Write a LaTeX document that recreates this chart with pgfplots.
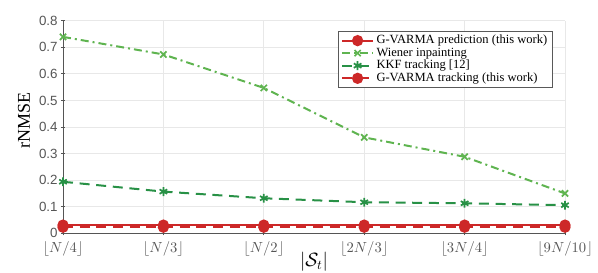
\documentclass[border=0pt]{standalone}
\usepackage{pgfplots}
\pgfplotsset{compat=1.18}
\usepackage{fontspec}
\setmainfont{Liberation Serif}
\setsansfont{Liberation Sans}
\definecolor{myred}{RGB}{205,40,40}
\definecolor{lgreen}{RGB}{95,180,80}
\definecolor{dgreen}{RGB}{40,145,70}
\definecolor{tickgray}{RGB}{85,85,85}
\begin{document}
\begin{tikzpicture}
\begin{axis}[
  name=ax,
  scale only axis,
  width=376.5pt, height=159.5pt,
  xmin=0, xmax=5, ymin=0, ymax=0.8,
  axis lines=left,
  axis line style={-, draw=tickgray, line width=0.7pt},
  xtick={0,1,2,3,4,5},
  xticklabels={$\lfloor N/4\rfloor$,$\lfloor N/3\rfloor$,$\lfloor N/2\rfloor$,$\lfloor 2N/3\rfloor$,$\lfloor 3N/4\rfloor$,$\lfloor 9N/10\rfloor$},
  ytick={0,0.1,0.2,0.3,0.4,0.5,0.6,0.7,0.8},
  yticklabels={0,0.1,0.2,0.3,0.4,0.5,0.6,0.7,0.8},
  yticklabel style={font=\sffamily\fontsize{10}{12}\selectfont, text=tickgray, xshift=1pt},
  xticklabel style={font=\fontsize{10.5}{12}\selectfont, text=tickgray, yshift=-1pt},
  tick style={draw=tickgray, line width=0.6pt},
  major tick length=3pt,
  grid=major,
  grid style={draw=gray!18, line width=0.6pt},
  ylabel={rNMSE},
  ylabel style={font=\fontsize{13.5}{15}\selectfont, at={(ticklabel cs:0.53)}},
  xlabel={$|\mathcal{S}_t|$},
  xlabel style={font=\fontsize{14}{16}\selectfont, yshift=10pt},
  clip=false,
  legend style={at={(rel axis cs:0.976,0.952)}, anchor=north east, font=\fontsize{9.4}{10.5}\selectfont, draw=gray!70!black, line width=0.6pt, inner xsep=2pt, inner ysep=1pt, row sep=-2.5pt, legend cell align=left},
  legend image code/.code={\draw[#1] (0cm,0cm) -- (0.8cm,0cm); \draw[#1,mark repeat=2,mark phase=2] plot coordinates {(0cm,0cm) (0.4cm,0cm) (0.8cm,0cm)};},
]
\addplot[myred, line width=1.6pt, mark=*, mark size=3.4pt, mark options={solid, fill=myred}]
  coordinates {(0,0.031) (1,0.031) (2,0.031) (3,0.031) (4,0.031) (5,0.031)};
\addlegendentry{G-VARMA prediction (this work)}
\addplot[lgreen, line width=1.5pt, dash pattern=on 6pt off 3pt on 1.5pt off 3pt, mark=x, mark size=3.3pt, mark options={solid, line width=1.3pt}]
  coordinates {(0,0.739) (1,0.673) (2,0.547) (3,0.361) (4,0.288) (5,0.150)};
\addlegendentry{Wiener inpainting}
\addplot[dgreen, line width=1.5pt, dash pattern=on 7.5pt off 5pt, mark=asterisk, mark size=3.3pt, mark options={solid, line width=1.3pt}]
  coordinates {(0,0.194) (1,0.157) (2,0.132) (3,0.117) (4,0.113) (5,0.106)};
\addlegendentry{KKF tracking [12]}
\addplot[myred, line width=1.6pt, dash pattern=on 7.5pt off 5pt, mark=*, mark size=3.4pt, mark options={solid, fill=myred}]
  coordinates {(0,0.023) (1,0.023) (2,0.023) (3,0.023) (4,0.023) (5,0.023)};
\addlegendentry{G-VARMA tracking (this work)}
\end{axis}
\pgfresetboundingbox
\path[use as bounding box] ([shift={(-47.25pt,-29pt)}]ax.south west) rectangle ++(448.5pt,204pt);
\end{tikzpicture}
\end{document}
